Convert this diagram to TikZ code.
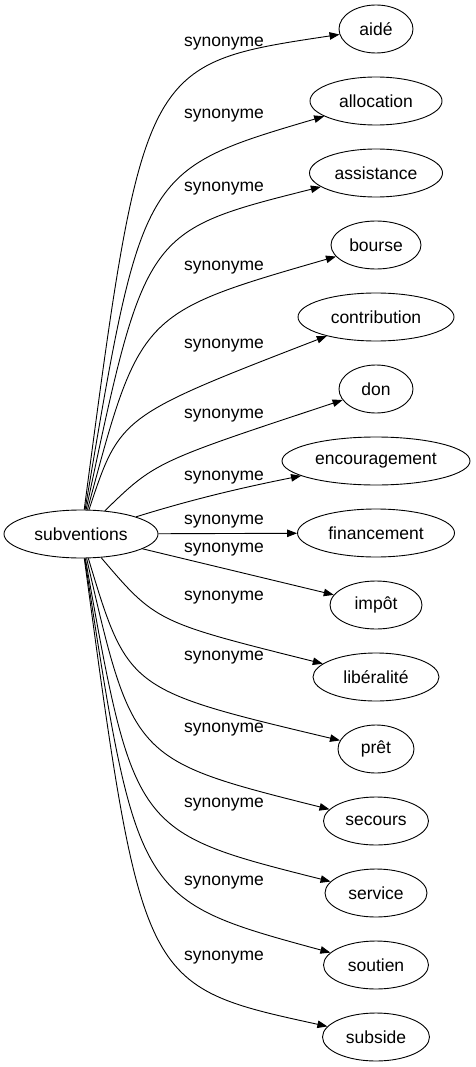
\documentclass[tikz,border=0pt]{standalone}
\usepackage{fontspec}
\setmainfont{Liberation Sans}
\usetikzlibrary{shapes.geometric,arrows.meta}
\begin{document}
\begin{tikzpicture}[x=1pt,y=-1pt,
  word/.style={draw,ellipse,inner sep=0pt,minimum height=48pt,line width=0.9pt,font=\fontsize{17.5}{20}\selectfont},
  lbl/.style={inner sep=0pt,font=\fontsize{17.5}{20}\selectfont},
  edge/.style={line width=0.9pt,-{Triangle[length=10pt,width=7.5pt]}}]
\useasboundingbox (0,0) rectangle (475,1067);
\node[word,minimum width=154pt] (s) at (81,534) {subventions};
\node[word,minimum width=74pt] (t1) at (376,29) {aidé};
\node[word,minimum width=132pt] (t2) at (376,101) {allocation};
\node[word,minimum width=133pt] (t3) at (376,173) {assistance};
\node[word,minimum width=90pt] (t4) at (376,245) {bourse};
\node[word,minimum width=156pt] (t5) at (376,317) {contribution};
\node[word,minimum width=74pt] (t6) at (376,389) {don};
\node[word,minimum width=188pt] (t7) at (376,461) {encouragement};
\node[word,minimum width=157pt] (t8) at (376,533) {financement};
\node[word,minimum width=92pt] (t9) at (376,605) {impôt};
\node[word,minimum width=126pt] (t10) at (376,677) {libéralité};
\node[word,minimum width=76pt] (t11) at (376,749) {prêt};
\node[word,minimum width=105pt] (t12) at (376,821) {secours};
\node[word,minimum width=102pt] (t13) at (376,893) {service};
\node[word,minimum width=105pt] (t14) at (376,965) {soutien};
\node[word,minimum width=107pt] (t15) at (376,1037) {subside};
\node[lbl] (l1) at (224,44) {synonyme};
\node[lbl] (l2) at (224,116) {synonyme};
\node[lbl] (l3) at (224,189) {synonyme};
\node[lbl] (l4) at (224,268) {synonyme};
\node[lbl] (l5) at (224,346) {synonyme};
\node[lbl] (l6) at (224,416) {synonyme};
\node[lbl] (l7) at (224,478) {synonyme};
\node[lbl] (l8) at (224,522) {synonyme};
\node[lbl] (l9) at (224,550) {synonyme};
\node[lbl] (l10) at (224,598) {synonyme};
\node[lbl] (l11) at (224,658) {synonyme};
\node[lbl] (l12) at (224,730) {synonyme};
\node[lbl] (l13) at (224,805) {synonyme};
\node[lbl] (l14) at (224,883) {synonyme};
\node[lbl] (l15) at (224,958) {synonyme};
\draw[edge] (s) .. controls (143,64) and (143,64) .. (t1);
\draw[edge] (s) .. controls (142,170) and (142,170) .. (t2);
\draw[edge] (s) .. controls (145,231) and (145,231) .. (t3);
\draw[edge] (s) .. controls (140,313) and (140,313) .. (t4);
\draw[edge] (s) .. controls (120,416) and (120,416) .. (t5);
\draw[edge] (s) .. controls (155,462) and (155,462) .. (t6);
\draw[edge] (s) .. controls (190,500) and (240,488) .. (t7);
\draw[edge] (s) -- (t8);
\draw[edge] (s) -- (t9);
\draw[edge] (s) .. controls (156,622) and (156,622) .. (t10);
\draw[edge] (s) .. controls (128,690) and (128,690) .. (t11);
\draw[edge] (s) .. controls (133,760) and (133,760) .. (t12);
\draw[edge] (s) .. controls (134,832) and (134,832) .. (t13);
\draw[edge] (s) .. controls (137,900) and (137,900) .. (t14);
\draw[edge] (s) .. controls (142,986) and (142,986) .. (t15);
\end{tikzpicture}
\end{document}
